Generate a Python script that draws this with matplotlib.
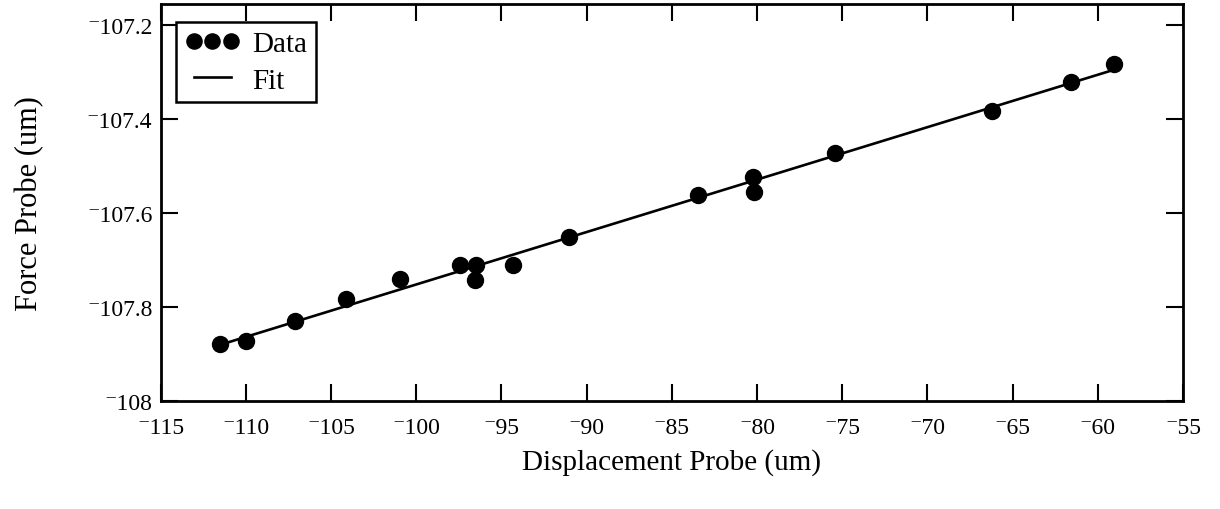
import numpy as np
import matplotlib
matplotlib.use("Agg")
import matplotlib.pyplot as plt

plt.rcParams["font.family"] = ["Liberation Serif", "DejaVu Serif"]

# displacement probe readings (um) and matching force probe readings (um)
disp = [-111.52, -110.00, -107.13, -104.14, -100.93, -97.46, -96.52, -96.56,
        -94.33, -91.05, -83.49, -80.22, -80.18, -75.43, -66.20, -61.57, -59.04]
force = [-107.880, -107.873, -107.830, -107.783, -107.740, -107.712, -107.712,
         -107.743, -107.712, -107.651, -107.562, -107.524, -107.555, -107.472,
         -107.384, -107.321, -107.283]

x_ticks = list(range(-115, -54, 5))
y_ticks = [-108, -107.8, -107.6, -107.4, -107.2]

MINUS = "\u207b"  # short raised minus used on the tick labels


def neg_label(v, fmt):
    return MINUS + format(abs(v), fmt)


# straight-line fit through the data
slope, intercept = np.polyfit(disp, force, 1)
fit_x = np.array([min(disp), max(disp)])
fit_y = slope * fit_x + intercept

fig = plt.figure(figsize=(12.2, 5.1), dpi=100)
ax = fig.add_axes([0.1317, 0.2127, 0.838, 0.7775])

ax.plot(fit_x, fit_y, "-", color="black", linewidth=1.9, label="Fit", zorder=2)
ax.plot(disp, force, "o", color="black", markersize=11.5, linestyle="none",
        label="Data", zorder=3)

ax.set_xlim(-115, -55)
ax.set_ylim(-108, -107.155)
ax.set_xticks(x_ticks)
ax.set_xticklabels([neg_label(v, "d") for v in x_ticks])
ax.set_yticks(y_ticks)
ax.set_yticklabels([neg_label(v, "g") for v in y_ticks])

ax.tick_params(direction="in", length=12, width=1.5, labelsize=17,
               top=True, right=True, colors="black")
ax.tick_params(axis="x", pad=12)
ax.tick_params(axis="y", pad=6)
for sp in ax.spines.values():
    sp.set_linewidth(2)

ax.set_xlabel("Displacement Probe (um)", fontsize=21, labelpad=7)
ax.set_ylabel("Force Probe (um)", fontsize=22)
ax.yaxis.set_label_coords(-0.114, 0.5)

handles, labels = ax.get_legend_handles_labels()
order = [1, 0]
leg = ax.legend([handles[i] for i in order], [labels[i] for i in order],
                loc="upper left", bbox_to_anchor=(0.015, 0.955), numpoints=3,
                fontsize=21, frameon=True, fancybox=False, framealpha=1,
                handlelength=1.9, handletextpad=0.4, borderpad=0.3,
                labelspacing=0.35, borderaxespad=0, markerscale=0.95)
leg.get_frame().set_edgecolor("black")
leg.get_frame().set_linewidth(1.8)

fig.savefig("out.png", dpi=100)
